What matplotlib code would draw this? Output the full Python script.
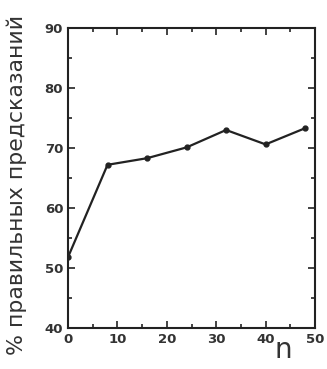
import matplotlib
matplotlib.use("Agg")
import matplotlib.pyplot as plt
from matplotlib.ticker import MultipleLocator

n_values = [0, 8, 16, 24, 32, 40, 48]
pct_correct = [51.8, 67.2, 68.3, 70.1, 73.0, 70.6, 73.3]
x_ticks = [0, 10, 20, 30, 40, 50]
y_ticks = [40, 50, 60, 70, 80, 90]

fig = plt.figure(figsize=(3.27, 3.69), dpi=100)
ax = fig.add_axes([68/327, 1-328/369, (315-68)/327, (328-28)/369])
ax.plot(n_values, pct_correct, color="#222222", lw=1.6, marker="o", ms=3.5)
ax.set_xlim(0, 50)
ax.set_ylim(40, 90)
ax.set_xticks(x_ticks)
ax.set_yticks(y_ticks)
ax.xaxis.set_minor_locator(MultipleLocator(5))
ax.yaxis.set_minor_locator(MultipleLocator(5))
ax.tick_params(which="both", direction="in", top=True, right=True, width=1.2,
               labelsize=9.5, colors="#222222")
ax.tick_params(which="major", length=5)
ax.tick_params(which="minor", length=3)
for lab in ax.get_xticklabels() + ax.get_yticklabels():
    lab.set_fontweight("bold")
    lab.set_color("#333333")
for s in ax.spines.values():
    s.set_linewidth(1.5)
    s.set_color("#222222")
fig.text(0.05, 0.5, "% правильных предсказаний", rotation=90, ha="center",
         va="center", fontsize=15.8, color="#333333")
fig.text(283/327, 1-350/369, "n", ha="center", va="center", fontsize=20, color="#333333")
fig.savefig("out.png", dpi=100)
